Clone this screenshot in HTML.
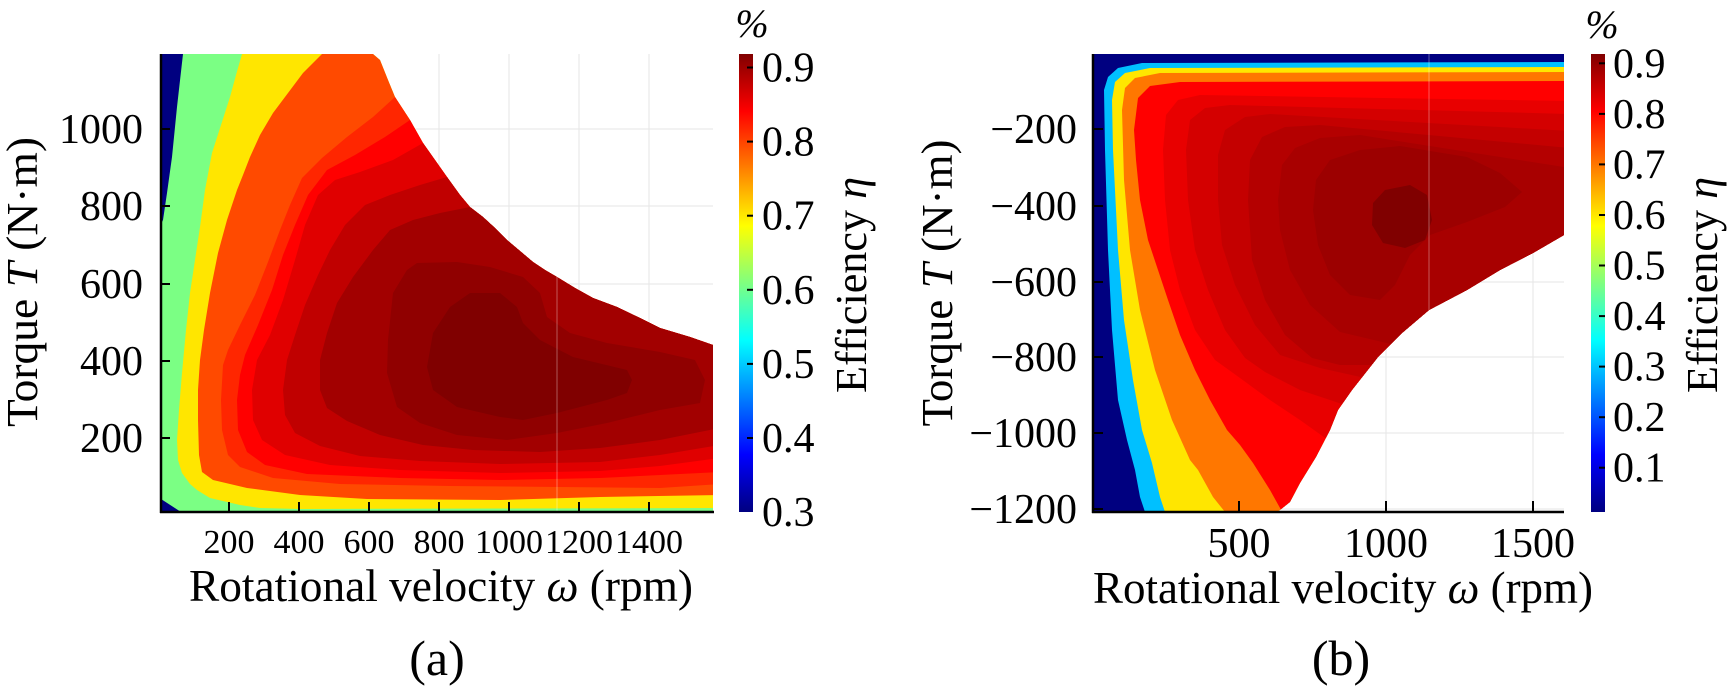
<!DOCTYPE html>
<html><head><meta charset="utf-8">
<style>
html,body{margin:0;padding:0;background:#fff;}
svg{display:block;}
svg, svg text{font-family:"Liberation Serif","Times New Roman",Times,"DejaVu Serif","Noto Serif CJK SC",serif;}
text{fill:#000;}
</style></head>
<body>
<svg width="1732" height="690" viewBox="0 0 1732 690" xmlns="http://www.w3.org/2000/svg" font-family="'Liberation Serif', 'Times New Roman', Times, 'DejaVu Serif', 'Noto Serif CJK SC', serif">
<defs>
<linearGradient id="jet" x1="0" y1="1" x2="0" y2="0">
<stop offset="0" stop-color="#000080"/>
<stop offset="0.125" stop-color="#0000ff"/>
<stop offset="0.375" stop-color="#00ffff"/>
<stop offset="0.625" stop-color="#ffff00"/>
<stop offset="0.875" stop-color="#ff0000"/>
<stop offset="1" stop-color="#800000"/>
</linearGradient>
<clipPath id="ca"><path d="M161,54 L373,54 L380,60 L388,80 L395,97 L410,120 L423,143 L435,160 L447,177 L460,195 L470,207 L483,217 L495,228 L507,240 L520,251 L533,262 L545,270 L557,277 L575,288 L593,298 L617,307 L640,318 L660,328 L690,337 L713,345 L713,512 L161,512 Z"/></clipPath>
<clipPath id="cb"><path d="M1093,54 L1564,54 L1564,235 L1533,253 L1500,270 L1467,290 L1429,310 L1402,333 L1378,357 L1352,390 L1338,410 L1330,430 L1316,457 L1300,483 L1290,502 L1280,510 L1276,512 L1093,512 Z"/></clipPath>
</defs>
<rect width="1732" height="690" fill="#fff"/>

<!-- ============ (a) ============ -->
<g stroke="#e6e6e6" stroke-width="1">
<line x1="229" y1="54" x2="229" y2="512"/><line x1="299" y1="54" x2="299" y2="512"/>
<line x1="369" y1="54" x2="369" y2="512"/><line x1="439" y1="54" x2="439" y2="512"/>
<line x1="509" y1="54" x2="509" y2="512"/><line x1="579" y1="54" x2="579" y2="512"/>
<line x1="649" y1="54" x2="649" y2="512"/>
<line x1="161" y1="129" x2="713" y2="129"/><line x1="161" y1="206" x2="713" y2="206"/>
<line x1="161" y1="284" x2="713" y2="284"/><line x1="161" y1="361" x2="713" y2="361"/>
<line x1="161" y1="438" x2="713" y2="438"/>
</g>
<g clip-path="url(#ca)">
<rect x="161" y="54" width="553" height="458" fill="#7bff84"/>
<path fill="#000080" d="M161,54 L183,54 L177,107 L172,157 L167,193 L163,220 L161,224 Z"/>
<path fill="#000080" d="M161,499 L181,512 L161,512 Z"/>
<path fill="#ffe600" d="M242,54 L720,54 L720,508 L300,509 L260,508 L240,505 L210,498 L197,490 L190,484 L182,473 L178,460 L177,440 L179,410 L182,373 L186,330 L190,293 L195,260 L200,227 L205,190 L212,153 L221,125 L230,97 L236,75 Z"/>
<path fill="#ff4a00" d="M322,54 L720,54 L720,495 L600,497 L500,500 L367,499 L300,495 L247,488 L213,480 L202,472 L199,455 L198,420 L198,390 L200,360 L204,330 L210,293 L218,253 L227,220 L237,190 L243,175 L250,157 L260,135 L273,113 L288,93 L303,73 Z"/>
<path fill="#ff2600" d="M395,97 L440,54 L720,54 L720,484 L660,488 L560,487 L450,486 L340,484 L273,478 L240,467 L228,455 L222,430 L221,400 L223,365 L228,350 L240,325 L255,295 L268,262 L280,230 L290,205 L302,178 L322,158 L347,137 L373,117 Z"/>
<path fill="#ff0000" d="M410,120 L460,54 L720,54 L720,472 L600,478 L500,480 L400,478 L307,474 L265,465 L247,452 L238,430 L237,400 L240,375 L245,355 L258,325 L272,290 L283,255 L295,225 L308,195 L327,170 L355,155 L385,137 Z"/>
<path fill="#e00000" d="M423,143 L480,80 L720,80 L720,458 L660,466 L600,471 L500,473 L400,470 L330,465 L285,455 L262,440 L253,420 L252,390 L257,360 L270,335 L283,300 L295,260 L305,225 L318,195 L335,180 L360,172 L393,160 Z"/>
<path fill="#c00000" d="M447,177 L500,120 L720,120 L720,445 L660,455 L600,462 L500,464 L420,461 L360,456 L320,446 L295,433 L285,415 L283,390 L287,360 L295,335 L305,305 L318,275 L330,250 L345,225 L365,205 L390,195 L420,185 Z"/>
<path fill="#a20000" d="M470,207 L520,160 L720,160 L720,428 L660,440 L600,448 L540,452 L473,450 L423,445 L380,435 L347,421 L327,408 L320,390 L320,360 L327,333 L337,303 L353,277 L373,250 L390,230 L413,220 L440,213 Z"/>
<path fill="#900000" d="M407,270 L417,263 L457,262 L490,267 L523,277 L540,293 L547,317 L570,333 L607,343 L660,352 L695,360 L705,380 L700,403 L660,410 L607,423 L557,433 L507,440 L457,435 L420,423 L397,407 L387,373 L388,340 L393,293 Z"/>
<path fill="#800000" d="M470,293 L500,293 L517,307 L523,323 L540,340 L573,357 L627,370 L632,380 L627,393 L607,400 L557,413 L523,420 L500,417 L457,407 L433,390 L427,367 L433,333 L450,307 Z"/>
<line x1="557" y1="270" x2="557" y2="512" stroke="#ffffff" stroke-opacity="0.35" stroke-width="1"/>
</g>
<!-- axes a -->
<g stroke="#000" stroke-width="2.5" fill="none">
<line x1="161" y1="54" x2="161" y2="513"/>
<line x1="160" y1="512" x2="714" y2="512"/>
</g>
<g stroke="#000" stroke-width="2">
<line x1="161" y1="129" x2="170" y2="129"/><line x1="161" y1="206" x2="170" y2="206"/>
<line x1="161" y1="284" x2="170" y2="284"/><line x1="161" y1="361" x2="170" y2="361"/>
<line x1="161" y1="438" x2="170" y2="438"/>
<line x1="229" y1="512" x2="229" y2="502"/><line x1="299" y1="512" x2="299" y2="502"/>
<line x1="369" y1="512" x2="369" y2="502"/><line x1="439" y1="512" x2="439" y2="502"/>
<line x1="509" y1="512" x2="509" y2="502"/><line x1="579" y1="512" x2="579" y2="502"/>
<line x1="649" y1="512" x2="649" y2="502"/>
</g>
<g font-size="42" text-anchor="end">
<text x="143" y="143">1000</text>
<text x="143" y="220">800</text>
<text x="143" y="298">600</text>
<text x="143" y="375">400</text>
<text x="143" y="452">200</text>
</g>
<g font-size="34" text-anchor="middle">
<text x="229" y="553">200</text>
<text x="299" y="553">400</text>
<text x="369" y="553">600</text>
<text x="439" y="553">800</text>
<text x="509" y="553">1000</text>
<text x="579" y="553">1200</text>
<text x="649" y="553">1400</text>
</g>
<text x="189" y="601" font-size="46" textLength="504" lengthAdjust="spacingAndGlyphs">Rotational velocity <tspan font-style="italic">ω</tspan> (rpm)</text>
<text transform="translate(37,282) rotate(-90)" font-size="44" text-anchor="middle" textLength="290" lengthAdjust="spacingAndGlyphs">Torque <tspan font-style="italic">T</tspan> (N·m)</text>
<text x="437" y="675" font-size="50" text-anchor="middle">(a)</text>
<!-- colorbar a -->
<rect x="739" y="54" width="14" height="458" fill="url(#jet)"/>
<g stroke="#000" stroke-width="2">
<line x1="747" y1="67.5" x2="753" y2="67.5"/><line x1="747" y1="141.6" x2="753" y2="141.6"/>
<line x1="747" y1="215.7" x2="753" y2="215.7"/><line x1="747" y1="289.8" x2="753" y2="289.8"/>
<line x1="747" y1="363.9" x2="753" y2="363.9"/><line x1="747" y1="438" x2="753" y2="438"/>
</g>
<g font-size="42">
<text x="762" y="81.5">0.9</text>
<text x="762" y="155.6">0.8</text>
<text x="762" y="229.7">0.7</text>
<text x="762" y="303.8">0.6</text>
<text x="762" y="377.9">0.5</text>
<text x="762" y="452">0.4</text>
<text x="762" y="526">0.3</text>
</g>
<text x="752" y="37" font-size="40" font-style="italic" text-anchor="middle">%</text>
<text transform="translate(866,285) rotate(-90)" font-size="44" text-anchor="middle" textLength="216" lengthAdjust="spacingAndGlyphs">Efficiency <tspan font-style="italic">η</tspan></text>

<!-- ============ (b) ============ -->
<g stroke="#e6e6e6" stroke-width="1">
<line x1="1239" y1="54" x2="1239" y2="512"/><line x1="1386" y1="54" x2="1386" y2="512"/>
<line x1="1533" y1="54" x2="1533" y2="512"/>
<line x1="1093" y1="129" x2="1564" y2="129"/><line x1="1093" y1="206" x2="1564" y2="206"/>
<line x1="1093" y1="282" x2="1564" y2="282"/><line x1="1093" y1="357" x2="1564" y2="357"/>
<line x1="1093" y1="433" x2="1564" y2="433"/><line x1="1093" y1="509" x2="1564" y2="509"/>
</g>
<g clip-path="url(#cb)">
<rect x="1093" y="54" width="472" height="458" fill="#000080"/>
<path fill="#00c0ff" d="M1142,63 L1570,62 L1570,520 L1145,520 L1145,512 L1140,497 L1135,470 L1127,440 L1118,400 L1112,330 L1108,250 L1105,150 L1104,90 L1108,77 L1118,68 Z"/>
<path fill="#ffe600" d="M1150,68 L1570,67 L1570,520 L1165,520 L1165,512 L1160,497 L1152,463 L1142,430 L1133,380 L1124,320 L1118,250 L1113,150 L1112,100 L1115,82 L1125,73 Z"/>
<path fill="#ff7700" d="M1160,73 L1570,72 L1570,520 L1225,520 L1225,512 L1213,497 L1198,470 L1190,460 L1172,420 L1155,370 L1140,310 L1130,250 L1124,180 L1122,110 L1125,88 L1135,78 Z"/>
<path fill="#ff0000" d="M1180,82 L1570,81 L1570,520 L1285,520 L1280,508 L1270,490 L1253,463 L1240,445 L1227,430 L1210,400 L1195,370 L1180,335 L1168,300 L1158,270 L1148,240 L1140,200 L1136,160 L1134,130 L1138,98 L1150,86 Z"/>
<path fill="#e80000" d="M1328,440 L1300,420 L1270,400 L1240,378 L1215,360 L1195,330 L1180,290 L1170,250 L1165,200 L1163,150 L1166,115 L1178,100 L1200,95 L1570,101 L1570,280 L1400,400 L1340,445 Z"/>
<path fill="#d40000" d="M1345,405 L1300,390 L1265,372 L1245,358 L1225,330 L1208,290 L1195,250 L1188,200 L1186,150 L1190,120 L1205,108 L1230,105 L1570,114 L1570,270 L1420,380 L1355,410 Z"/>
<path fill="#c40000" d="M1365,378 L1320,368 L1280,355 L1255,325 L1235,285 L1222,245 L1218,200 L1218,155 L1225,130 L1245,117 L1270,114 L1570,131 L1570,260 L1450,360 L1380,385 Z"/>
<path fill="#b40000" d="M1372,365 L1340,365 L1312,358 L1285,335 L1265,300 L1252,260 L1248,200 L1250,160 L1262,137 L1285,127 L1320,125 L1570,148 L1570,250 L1480,330 L1400,370 Z"/>
<path fill="#a80000" d="M1340,332 L1310,305 L1290,270 L1280,230 L1278,200 L1282,165 L1295,148 L1320,138 L1360,135 L1570,168 L1570,240 L1500,300 L1420,345 L1395,345 Z"/>
<path fill="#9c0000" d="M1318,245 L1313,210 L1316,180 L1330,160 L1360,150 L1400,146 L1467,157 L1500,173 L1522,192 L1505,207 L1467,222 L1430,235 L1410,255 L1395,285 L1380,300 L1350,295 L1330,275 Z"/>
<path fill="#800000" d="M1385,190 L1410,185 L1427,195 L1432,220 L1425,240 L1405,248 L1383,243 L1372,225 L1373,203 Z"/>
<line x1="1429" y1="54" x2="1429" y2="312" stroke="#ffffff" stroke-opacity="0.35" stroke-width="1"/>
</g>
<!-- axes b -->
<g stroke="#000" stroke-width="2.5" fill="none">
<line x1="1093" y1="54" x2="1093" y2="513"/>
<line x1="1092" y1="512" x2="1564" y2="512"/>
</g>
<g stroke="#000" stroke-width="2">
<line x1="1093" y1="129" x2="1103" y2="129"/><line x1="1093" y1="206" x2="1103" y2="206"/>
<line x1="1093" y1="282" x2="1103" y2="282"/><line x1="1093" y1="357" x2="1103" y2="357"/>
<line x1="1093" y1="433" x2="1103" y2="433"/><line x1="1093" y1="509" x2="1103" y2="509"/>
<line x1="1239" y1="512" x2="1239" y2="501"/><line x1="1386" y1="512" x2="1386" y2="501"/>
<line x1="1533" y1="512" x2="1533" y2="501"/>
</g>
<g font-size="42" text-anchor="end">
<text x="1077" y="143">−200</text>
<text x="1077" y="220">−400</text>
<text x="1077" y="296">−600</text>
<text x="1077" y="371">−800</text>
<text x="1077" y="447">−1000</text>
<text x="1077" y="523">−1200</text>
</g>
<g font-size="42" text-anchor="middle">
<text x="1239" y="557">500</text>
<text x="1386" y="557">1000</text>
<text x="1533" y="557">1500</text>
</g>
<text x="1093" y="603" font-size="46" textLength="500" lengthAdjust="spacingAndGlyphs">Rotational velocity <tspan font-style="italic">ω</tspan> (rpm)</text>
<text transform="translate(952,283) rotate(-90)" font-size="44" text-anchor="middle" textLength="287" lengthAdjust="spacingAndGlyphs">Torque <tspan font-style="italic">T</tspan> (N·m)</text>
<text x="1341" y="675" font-size="50" text-anchor="middle">(b)</text>
<!-- colorbar b -->
<rect x="1591" y="54" width="14" height="458" fill="url(#jet)"/>
<g stroke="#000" stroke-width="2">
<line x1="1599" y1="63.3" x2="1605" y2="63.3"/><line x1="1599" y1="113.9" x2="1605" y2="113.9"/>
<line x1="1599" y1="164.4" x2="1605" y2="164.4"/><line x1="1599" y1="215" x2="1605" y2="215"/>
<line x1="1599" y1="265.5" x2="1605" y2="265.5"/><line x1="1599" y1="316.1" x2="1605" y2="316.1"/>
<line x1="1599" y1="366.6" x2="1605" y2="366.6"/><line x1="1599" y1="417.2" x2="1605" y2="417.2"/>
<line x1="1599" y1="467.7" x2="1605" y2="467.7"/>
</g>
<g font-size="42">
<text x="1613" y="77.3">0.9</text>
<text x="1613" y="127.9">0.8</text>
<text x="1613" y="178.4">0.7</text>
<text x="1613" y="229">0.6</text>
<text x="1613" y="279.5">0.5</text>
<text x="1613" y="330.1">0.4</text>
<text x="1613" y="380.6">0.3</text>
<text x="1613" y="431.2">0.2</text>
<text x="1613" y="481.7">0.1</text>
</g>
<text x="1602" y="38" font-size="40" font-style="italic" text-anchor="middle">%</text>
<text transform="translate(1717,285) rotate(-90)" font-size="44" text-anchor="middle" textLength="216" lengthAdjust="spacingAndGlyphs">Efficiency <tspan font-style="italic">η</tspan></text>
</svg>
</body></html>
